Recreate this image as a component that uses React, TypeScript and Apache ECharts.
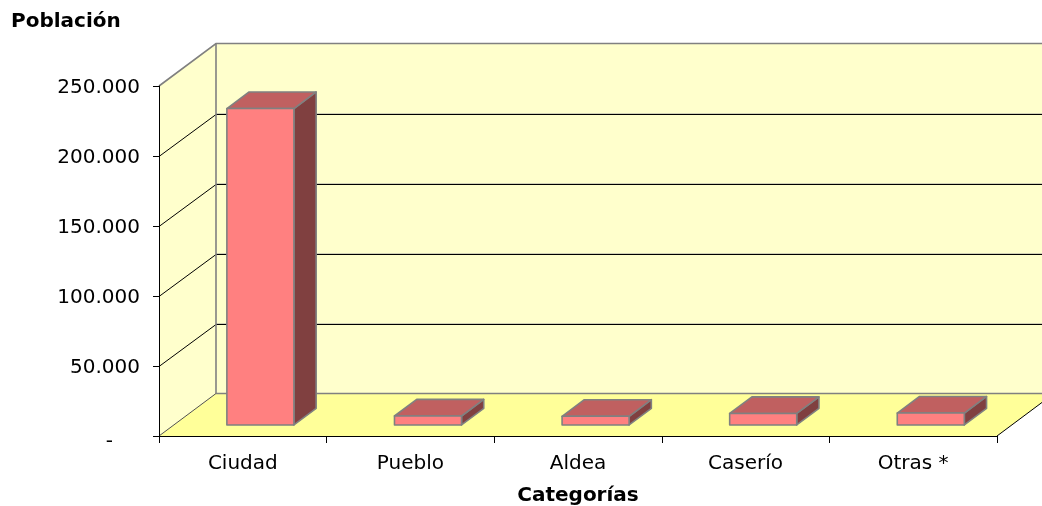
import React, { useEffect, useRef } from "react";
import * as echarts from "echarts";

const categories = ["Ciudad", "Pueblo", "Aldea", "Caserío", "Otras *"];
const poblacion = [226000, 6400, 6200, 8200, 8500];
const yTicks = [0, 50000, 100000, 150000, 200000, 250000];
const yTitle = "Población";
const xTitle = "Categorías";

const DX = 57;
const DY = 42.5;
const FONT = "DejaVu Sans";
const FS = 20;

function fmt(v: number): string {
  if (v === 0) return "{d|-}";
  return String(v).replace(/\B(?=(\d{3})+(?!\d))/g, ".");
}

export default function App() {
  const ref = useRef<HTMLDivElement>(null);
  useEffect(() => {
    if (!ref.current) return;
    const chart = echarts.init(ref.current, null, { renderer: "svg" });
    const yMax = yTicks[yTicks.length - 1];

    const renderBg = (params: any, api: any) => {
      const cs = params.coordSys;
      const left = cs.x;
      const right = cs.x + cs.width;
      const yT = api.coord([0, yMax])[1];
      const yB = api.coord([0, 0])[1];
      const children: any[] = [];
      children.push({
        type: "polygon",
        shape: { points: [[left + DX, yT - DY], [right + DX, yT - DY], [right + DX, yB - DY], [left + DX, yB - DY]] },
        style: { fill: "#FFFFCC" },
      });
      children.push({
        type: "polygon",
        shape: { points: [[left, yT], [left + DX, yT - DY], [left + DX, yB - DY], [left, yB]] },
        style: { fill: "#FFFFCC" },
      });
      children.push({
        type: "polygon",
        shape: { points: [[left, yB], [left + DX, yB - DY], [right + DX, yB - DY], [right, yB]] },
        style: { fill: "#FFFF99" },
      });
      yTicks.forEach((v) => {
        if (v === 0 || v === yMax) return;
        const y = Math.round(api.coord([0, v])[1]);
        children.push({
          type: "line",
          shape: { x1: left + DX, y1: y - DY + 0.5, x2: right + DX, y2: y - DY + 0.5 },
          style: { stroke: "#A0A0A0", lineWidth: 1 },
        });
        children.push({
          type: "polyline",
          shape: { points: [[left, y + 0.5], [left + DX, y - DY + 1], [right + DX, y - DY + 1]] },
          style: { stroke: "#000", lineWidth: 1, fill: null },
        });
      });
      children.push({
        type: "polyline",
        shape: { points: [[left, yT], [left + DX, yT - DY], [right + DX, yT - DY]] },
        style: { stroke: "#808080", lineWidth: 1.6, fill: null },
      });
      children.push({
        type: "line",
        shape: { x1: left + DX, y1: yT - DY, x2: left + DX, y2: yB - DY },
        style: { stroke: "#808080", lineWidth: 1.6 },
      });
      children.push({
        type: "line",
        shape: { x1: left + DX, y1: yB - DY, x2: right + DX, y2: yB - DY },
        style: { stroke: "#808080", lineWidth: 1.6 },
      });
      children.push({
        type: "line",
        shape: { x1: left, y1: yB, x2: left + DX, y2: yB - DY },
        style: { stroke: "#505050", lineWidth: 1 },
      });
      children.push({
        type: "line",
        shape: { x1: right, y1: yB, x2: right + DX, y2: yB - DY },
        style: { stroke: "#000", lineWidth: 1 },
      });
      return { type: "group", children };
    };

    const renderBar = (params: any, api: any) => {
      const i = api.value(0);
      const v = api.value(1);
      const bw = api.size([1, 0])[0];
      const c0 = api.coord([i, 0]);
      const cv = api.coord([i, v]);
      const bx = c0[0] - bw / 2;
      const TF = 0.26;
      const TD = 0.39;
      const x0 = bx + 0.405 * bw;
      const x1 = x0 + 0.4 * bw;
      const yb = c0[1] - TF * DY;
      const yt = cv[1] - TF * DY;
      const ddx = TD * DX;
      const ddy = TD * DY;
      const stroke = { stroke: "#808080", lineWidth: 1.6, lineJoin: "round" };
      return {
        type: "group",
        children: [
          {
            type: "polygon",
            shape: { points: [[x1, yt], [x1 + ddx, yt - ddy], [x1 + ddx, yb - ddy], [x1, yb]] },
            style: { fill: "#804040", ...stroke },
          },
          {
            type: "polygon",
            shape: { points: [[x0, yt], [x1, yt], [x1 + ddx, yt - ddy], [x0 + ddx, yt - ddy]] },
            style: { fill: "#C06060", ...stroke },
          },
          {
            type: "rect",
            shape: { x: x0, y: yt, width: x1 - x0, height: yb - yt },
            style: { fill: "#FF8080", ...stroke },
          },
        ],
      };
    };

    chart.setOption({
      animation: false,
      title: {
        text: yTitle,
        left: 11,
        top: 10,
        padding: 0,
        textStyle: { fontFamily: FONT, fontSize: FS, fontWeight: "bold", color: "#000" },
      },
      grid: { left: 159, right: 45, top: 86, bottom: 70, containLabel: false, outerBoundsMode: "none" },
      xAxis: {
        type: "category",
        data: categories,
        boundaryGap: true,
        z: 3,
        axisLine: { show: true, lineStyle: { color: "#000", width: 1 } },
        axisTick: { show: true, length: 7, lineStyle: { color: "#000" } },
        axisLabel: { margin: 16, fontFamily: FONT, fontSize: FS, color: "#000" },
        name: xTitle,
        nameLocation: "middle",
        nameGap: 48,
        nameTextStyle: { fontFamily: FONT, fontSize: FS, fontWeight: "bold", color: "#000" },
        splitLine: { show: false },
      },
      yAxis: {
        type: "value",
        min: 0,
        max: yMax,
        interval: 50000,
        z: 3,
        axisLine: { show: true, lineStyle: { color: "#000", width: 1 } },
        axisTick: { show: true, length: 6, lineStyle: { color: "#000" } },
        axisLabel: {
          margin: 19,
          fontFamily: FONT,
          fontSize: FS,
          color: "#000",
          formatter: fmt,
          rich: { d: { fontFamily: FONT, fontSize: FS, color: "#000", padding: [8, 27, 0, 0] } },
        },
        splitLine: { show: false },
      },
      series: [
        {
          type: "custom",
          z: 1,
          silent: true,
          renderItem: renderBg,
          data: [[0, 0]],
        },
        {
          type: "custom",
          z: 4,
          silent: true,
          renderItem: renderBar,
          data: categories.map((c, i) => [i, poblacion[i]]),
        },
      ],
    });
    return () => chart.dispose();
  }, []);
  return <div ref={ref} style={{ position: "fixed", left: 0, top: 0, width: 1042, height: 506 }} />;
}
